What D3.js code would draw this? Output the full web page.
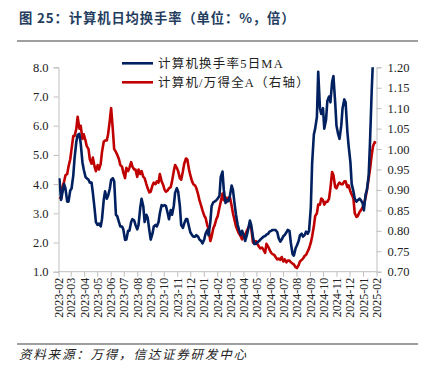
<!DOCTYPE html>
<html><head><meta charset="utf-8">
<script src="https://cdn.jsdelivr.net/npm/d3@7"></script>
<style>body{margin:0;background:#fff;} svg{display:block;}</style>
</head><body><svg id="c" width="429" height="379"></svg>
<script>
// Friday observations
const datesFri = [
"2023-02-03","2023-02-10","2023-02-17","2023-02-24","2023-03-03","2023-03-10","2023-03-17","2023-03-24","2023-03-31",
"2023-04-07","2023-04-14","2023-04-21","2023-04-28","2023-05-05","2023-05-12","2023-05-19","2023-05-26",
"2023-06-02","2023-06-09","2023-06-16","2023-06-23","2023-06-30","2023-07-07","2023-07-14","2023-07-21","2023-07-28",
"2023-08-04","2023-08-11","2023-08-18","2023-08-25","2023-09-01","2023-09-08","2023-09-15","2023-09-22","2023-09-29",
"2023-10-06","2023-10-13","2023-10-20","2023-10-27","2023-11-03","2023-11-10","2023-11-17","2023-11-24",
"2023-12-01","2023-12-08","2023-12-15","2023-12-22","2023-12-29",
"2024-01-05","2024-01-12","2024-01-19","2024-01-26","2024-02-02","2024-02-09","2024-02-16","2024-02-23",
"2024-03-01","2024-03-08","2024-03-15","2024-03-22","2024-03-29","2024-04-05","2024-04-12","2024-04-19","2024-04-26",
"2024-05-03","2024-05-10","2024-05-17","2024-05-24","2024-05-31","2024-06-07","2024-06-14","2024-06-21","2024-06-28",
"2024-07-05","2024-07-12","2024-07-19","2024-07-26","2024-08-02","2024-08-09","2024-08-16","2024-08-23","2024-08-30",
"2024-09-06","2024-09-13","2024-09-20","2024-09-27","2024-10-04","2024-10-11","2024-10-18","2024-10-25",
"2024-11-01","2024-11-08","2024-11-15","2024-11-22","2024-11-29","2024-12-06","2024-12-13","2024-12-20","2024-12-27",
"2025-01-03","2025-01-10","2025-01-17","2025-01-24","2025-01-31"];
const turnoverFri = [
4.2,3.7,3.85,3.4,3.85,4.9,5.68,5.4,4.5,4.2,4.05,3.7,2.7,2.65,2.8,3.75,3.6,4.14,4.1,2.9,
2.55,2.45,2.1,2.4,2.8,2.6,2.6,3.5,2.7,2.85,2.1,2.55,2.55,3.0,3.25,3.25,2.8,2.95,3.7,3.75,
2.6,2.65,2.8,2.35,2.2,2.25,2.1,1.97,2.3,2.25,3.25,3.4,3.5,4.25,3.8,3.45,3.6,3.8,2.95,2.43,
2.4,2.05,2.45,2.6,1.95,2.0,2.1,2.2,2.27,2.37,2.43,2.43,2.15,2.1,2.26,2.43,2.0,1.55,1.9,2.25,
2.2,2.37,2.4,4.7,5.9,7.85,6.4,5.9,6.85,6.8,7.7,6.0,5.55,6.6,6.8,5.3,4.0,3.5,3.45,3.45,
3.1,3.8,5.4,8.3,9.6];
const ratioFri = [
0.882,0.907,0.936,0.957,1.000,1.032,1.079,1.057,1.036,1.007,0.975,0.979,0.946,0.950,0.993,1.021,1.036,1.100,1.000,0.986,
0.961,0.943,0.954,0.954,0.957,0.950,0.950,0.946,0.929,0.904,0.896,0.918,0.921,0.939,0.914,0.896,0.904,0.921,0.961,0.946,
0.925,0.964,0.975,0.936,0.914,0.904,0.875,0.850,0.832,0.804,0.786,0.814,0.836,0.871,0.875,0.871,0.882,0.843,0.811,0.793,
0.779,0.789,0.807,0.807,0.771,0.768,0.757,0.754,0.768,0.754,0.743,0.736,0.732,0.736,0.730,0.727,0.723,0.718,0.709,0.725,
0.732,0.741,0.757,0.786,0.836,0.864,0.879,0.864,0.871,0.904,0.936,0.904,0.918,0.914,0.921,0.911,0.889,0.843,0.836,0.850,
0.864,0.900,0.950,1.007,1.014];

// Tuesday observations
const datesTue = [
"2023-02-07","2023-02-14","2023-02-21","2023-02-28","2023-03-07","2023-03-14","2023-03-21","2023-03-28",
"2023-04-04","2023-04-11","2023-04-18","2023-04-25","2023-05-02","2023-05-09","2023-05-16","2023-05-23","2023-05-30",
"2023-06-06","2023-06-13","2023-06-20","2023-06-27","2023-07-04","2023-07-11","2023-07-18","2023-07-25",
"2023-08-01","2023-08-08","2023-08-15","2023-08-22","2023-08-29","2023-09-05","2023-09-12","2023-09-19","2023-09-26",
"2023-10-03","2023-10-10","2023-10-17","2023-10-24","2023-10-31","2023-11-07","2023-11-14","2023-11-21","2023-11-28",
"2023-12-05","2023-12-12","2023-12-19","2023-12-26",
"2024-01-02","2024-01-09","2024-01-16","2024-01-23","2024-01-30","2024-02-06","2024-02-13","2024-02-20","2024-02-27",
"2024-03-05","2024-03-12","2024-03-19","2024-03-26","2024-04-02","2024-04-09","2024-04-16","2024-04-23","2024-04-30",
"2024-05-07","2024-05-14","2024-05-21","2024-05-28","2024-06-04","2024-06-11","2024-06-18","2024-06-25",
"2024-07-02","2024-07-09","2024-07-16","2024-07-23","2024-07-30","2024-08-06","2024-08-13","2024-08-20","2024-08-27",
"2024-09-03","2024-09-10","2024-09-17","2024-09-24","2024-10-01","2024-10-08","2024-10-15","2024-10-22","2024-10-29",
"2024-11-05","2024-11-12","2024-11-19","2024-11-26","2024-12-03","2024-12-10","2024-12-17","2024-12-24","2024-12-31",
"2025-01-07","2025-01-14","2025-01-21","2025-01-28"];
const turnoverTue = [
3.46,4.0,3.4,3.78,4.3,5.45,5.72,4.75,4.25,4.15,
4.05,3.15,2.6,2.55,3.46,3.5,3.85,4.2,2.95,2.7,
2.55,2.09,2.4,2.7,2.75,2.45,3.2,3.23,2.95,2.4,
2.3,2.6,2.7,3.28,3.28,3.0,3.11,3.25,3.86,3.25,
2.5,2.8,2.54,2.25,2.2,2.2,2.05,2.1,2.43,2.7,
3.38,3.45,3.6,4.43,3.35,3.42,3.95,3.3,2.6,2.26,
2.25,2.25,2.75,2.2,1.95,2.05,2.15,2.22,2.3,2.4,
2.43,2.35,2.03,2.22,2.35,2.4,1.6,1.8,2.05,2.3,
2.26,2.3,3.2,5.7,6.3,6.6,6.6,6.2,7.0,7.5,
6.8,5.7,6.0,6.9,5.8,4.75,3.75,3.4,3.5,3.35,
3.65,4.3,7.2,9.0];
const ratioTue = [
0.879,0.921,0.939,0.975,1.032,1.050,1.050,1.025,1.021,1.000,
0.964,0.957,0.961,0.964,1.018,1.021,1.071,1.046,0.993,0.975,
0.957,0.929,0.946,0.968,0.950,0.932,0.939,0.932,0.914,0.894,
0.911,0.914,0.918,0.921,0.900,0.899,0.907,0.946,0.954,0.929,
0.946,0.977,0.950,0.921,0.911,0.889,0.861,0.837,0.814,0.775,
0.807,0.829,0.857,0.891,0.882,0.882,0.861,0.825,0.800,0.786,
0.791,0.800,0.814,0.771,0.775,0.761,0.759,0.746,0.761,0.746,
0.741,0.730,0.729,0.725,0.723,0.727,0.720,0.711,0.716,0.729,
0.739,0.750,0.771,0.811,0.843,0.864,0.875,0.871,0.879,0.944,
0.907,0.914,0.914,0.921,0.907,0.896,0.879,0.834,0.846,0.857,
0.882,0.928,0.986,1.017];

const leftTicks = [1,2,3,4,5,6,7,8];
const rightTicks = [0.70,0.75,0.80,0.85,0.90,0.95,1.00,1.05,1.10,1.15,1.20];
const seriesNames = ["计算机换手率5日MA","计算机/万得全A（右轴）"];
const colors = ["#002060","#C00000"];

const svg = d3.select("#c");
const L = 58.5, R = 376.5, T = 67.3, B = 271.7;
const parse = d3.timeParse("%Y-%m-%d");

const data = datesFri.map((s,i)=>({d:parse(s), a:turnoverFri[i], b:ratioFri[i]}))
  .concat(datesTue.map((s,i)=>({d:parse(s), a:turnoverTue[i], b:ratioTue[i]})))
  .sort((p,q)=>p.d-q.d);

const x = d3.scaleTime().domain([new Date(2023,1,1), new Date(2025,1,1)]).range([L,R]);
const yL = d3.scaleLinear().domain([1,8]).range([B,T]);
const yR = d3.scaleLinear().domain([0.70,1.20]).range([B,T]);

const serif = "'Liberation Serif','Times New Roman','Noto Sans CJK SC',serif";
const cjk = "'Liberation Serif','Noto Sans CJK SC',sans-serif";

// title
svg.append("text").attr("x",19).attr("y",23)
  .attr("font-family","'Noto Sans CJK SC',sans-serif").attr("font-weight","bold")
  .attr("font-size",13.3).attr("letter-spacing",0.9).attr("fill","#243d5e")
  .text("图 25：计算机日均换手率（单位：%，倍）");
svg.append("line").attr("x1",17).attr("x2",418).attr("y1",41).attr("y2",41)
  .attr("stroke","#404040").attr("stroke-width",1.2);
svg.append("line").attr("x1",17).attr("x2",418).attr("y1",344).attr("y2",344)
  .attr("stroke","#404040").attr("stroke-width",1.2);
svg.append("text").attr("x",19).attr("y",359)
  .attr("font-family","'Noto Sans CJK SC',sans-serif").attr("font-style","italic")
  .attr("font-size",12.5).attr("letter-spacing",1.8).attr("fill","#222")
  .text("资料来源：万得，信达证券研发中心");

// axes
const axL = d3.axisLeft(yL).tickValues(leftTicks).tickFormat(d3.format(".1f")).tickSize(5).tickPadding(5);
const axR = d3.axisRight(yR).tickValues(rightTicks).tickFormat(d3.format(".2f")).tickSize(5).tickPadding(6);
const axB = d3.axisBottom(x).ticks(d3.timeMonth.every(1)).tickFormat(d3.timeFormat("%Y-%m")).tickSize(5);

function style(g){
  g.select(".domain").attr("stroke","#bfbfbf");
  g.selectAll(".tick line").attr("stroke","#bfbfbf");
  g.selectAll("text").attr("font-family",serif).attr("font-size",12.5).attr("fill","#222");
}
svg.append("g").attr("transform",`translate(${L},0)`).call(axL).call(style);
svg.append("g").attr("transform",`translate(${R},0)`).call(axR).call(style);
const gb = svg.append("g").attr("transform",`translate(0,${B})`).call(axB).call(style);
gb.selectAll(".tick text").attr("text-anchor","end").attr("dy","0.35em")
  .attr("font-size",12).attr("transform","translate(0,6) rotate(-90)").attr("x",0).attr("y",0);
gb.select(".domain").attr("d",`M${L},0H${R}`);

// clip
svg.append("clipPath").attr("id","clp").append("rect").attr("x",L).attr("y",T).attr("width",R-L).attr("height",B-T);

const lineA = d3.line().x(p=>x(p.d)).y(p=>yL(p.a));
const lineB = d3.line().x(p=>x(p.d)).y(p=>yR(p.b));
const gp = svg.append("g").attr("clip-path","url(#clp)");
gp.append("path").datum(data).attr("d",lineB).attr("fill","none").attr("stroke",colors[1]).attr("stroke-width",2.6).attr("stroke-linejoin","round");
gp.append("path").datum(data).attr("d",lineA).attr("fill","none").attr("stroke",colors[0]).attr("stroke-width",2.6).attr("stroke-linejoin","round");

// legend
const lg = svg.append("g");
[63.3, 82.3].forEach((yy,i)=>{
  lg.append("line").attr("x1",122).attr("x2",153).attr("y1",yy).attr("y2",yy).attr("stroke",colors[i]).attr("stroke-width",2.6);
  lg.append("text").attr("x",158).attr("y",yy+4.5).attr("font-family",cjk).attr("font-size",12.5)
    .attr("letter-spacing",1.2).attr("fill","#222").text(seriesNames[i]);
});
</script></body></html>
